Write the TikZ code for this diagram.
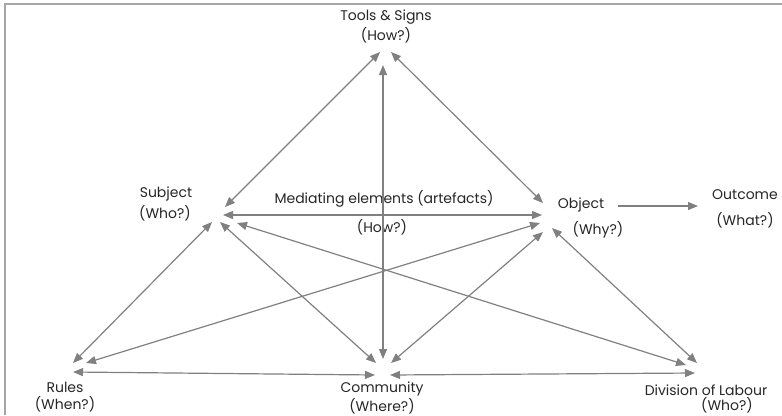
\documentclass[tikz,border=0pt]{standalone}
\usepackage{fontspec}
\setmainfont{Poppins}
\usetikzlibrary{arrows.meta}
\definecolor{framegray}{HTML}{A6A6A6}
\definecolor{arrowgray}{HTML}{808080}
\definecolor{textgray}{HTML}{262626}
\tikzset{
  lbl/.style={inner sep=0pt, text=textgray, font=\fontsize{10.5pt}{12pt}\selectfont},
  link/.style={draw=arrowgray, line width=0.9pt, {Triangle[length=7.5pt,width=6pt]}-{Triangle[length=7.5pt,width=6pt]}},
  onelink/.style={draw=arrowgray, line width=0.9pt, -{Triangle[length=7.5pt,width=6pt]}},
  frameline/.style={draw=framegray, line width=1.1pt}
}
\begin{document}
\begin{tikzpicture}[x=0.75pt,y=-0.75pt]
\useasboundingbox (0,0) rectangle (782,415);
% frame
\coordinate (fa) at (5,415);
\coordinate (fb) at (5,4);
\coordinate (fc) at (782,4);
\draw[frameline] (fa) -- (fb) -- (fc);
% labels
\node[lbl] (tools) at (386,17) {Tools \& Signs};
\node[lbl] (toolsq) at (386,35) {(How?)};
\node[lbl] (subj) at (166,194) {Subject};
\node[lbl] (subjq) at (165,213) {(Who?)};
\node[lbl] (obj) at (581,205) {Object};
\node[lbl] (objq) at (598,230) {(Why?)};
\node[lbl] (outc) at (745,195) {Outcome};
\node[lbl] (outcq) at (745,220) {(What?)};
\node[lbl] (med) at (384,199) {Mediating elements (artefacts)};
\node[lbl] (medq) at (382,227) {(How?)};
\node[lbl] (rules) at (65,387) {Rules};
\node[lbl] (rulesq) at (65,404) {(When?)};
\node[lbl] (comm) at (382,389) {Community};
\node[lbl] (commq) at (382,406) {(Where?)};
\node[lbl] (div) at (706,390) {Division of Labour};
\node[lbl] (divq) at (727,405) {(Who?)};
% connector end points
\coordinate (t1) at (380,52);
\coordinate (t2) at (383,65);
\coordinate (t3) at (391,52);
\coordinate (s1) at (225,207);
\coordinate (s2) at (223,215);
\coordinate (s3) at (212,222);
\coordinate (s4) at (220,222);
\coordinate (s5) at (237,223);
\coordinate (o1) at (543,203);
\coordinate (o2) at (542,215);
\coordinate (o3) at (540,223);
\coordinate (o4) at (543,232);
\coordinate (o5) at (552,228);
\coordinate (o6) at (618,206);
\coordinate (u1) at (698,206);
\coordinate (r1) at (73,363);
\coordinate (r2) at (86,363);
\coordinate (r3) at (73,372);
\coordinate (c1) at (383,359);
\coordinate (c2) at (376,363);
\coordinate (c3) at (391,363);
\coordinate (c4) at (375,375);
\coordinate (c5) at (390,375);
\coordinate (d1) at (697,363);
\coordinate (d2) at (686,365);
\coordinate (d3) at (695,373);
% connectors
\draw[link] (t1) -- (s1);
\draw[link] (t2) -- (c1);
\draw[link] (t3) -- (o1);
\draw[link] (s2) -- (o2);
\draw[link] (s3) -- (r1);
\draw[link] (s4) -- (c2);
\draw[link] (s5) -- (d2);
\draw[link] (o3) -- (r2);
\draw[link] (o4) -- (c3);
\draw[link] (o5) -- (d1);
\draw[link] (r3) -- (c4);
\draw[link] (c5) -- (d3);
\draw[onelink] (o6) -- (u1);
\end{tikzpicture}
\end{document}
